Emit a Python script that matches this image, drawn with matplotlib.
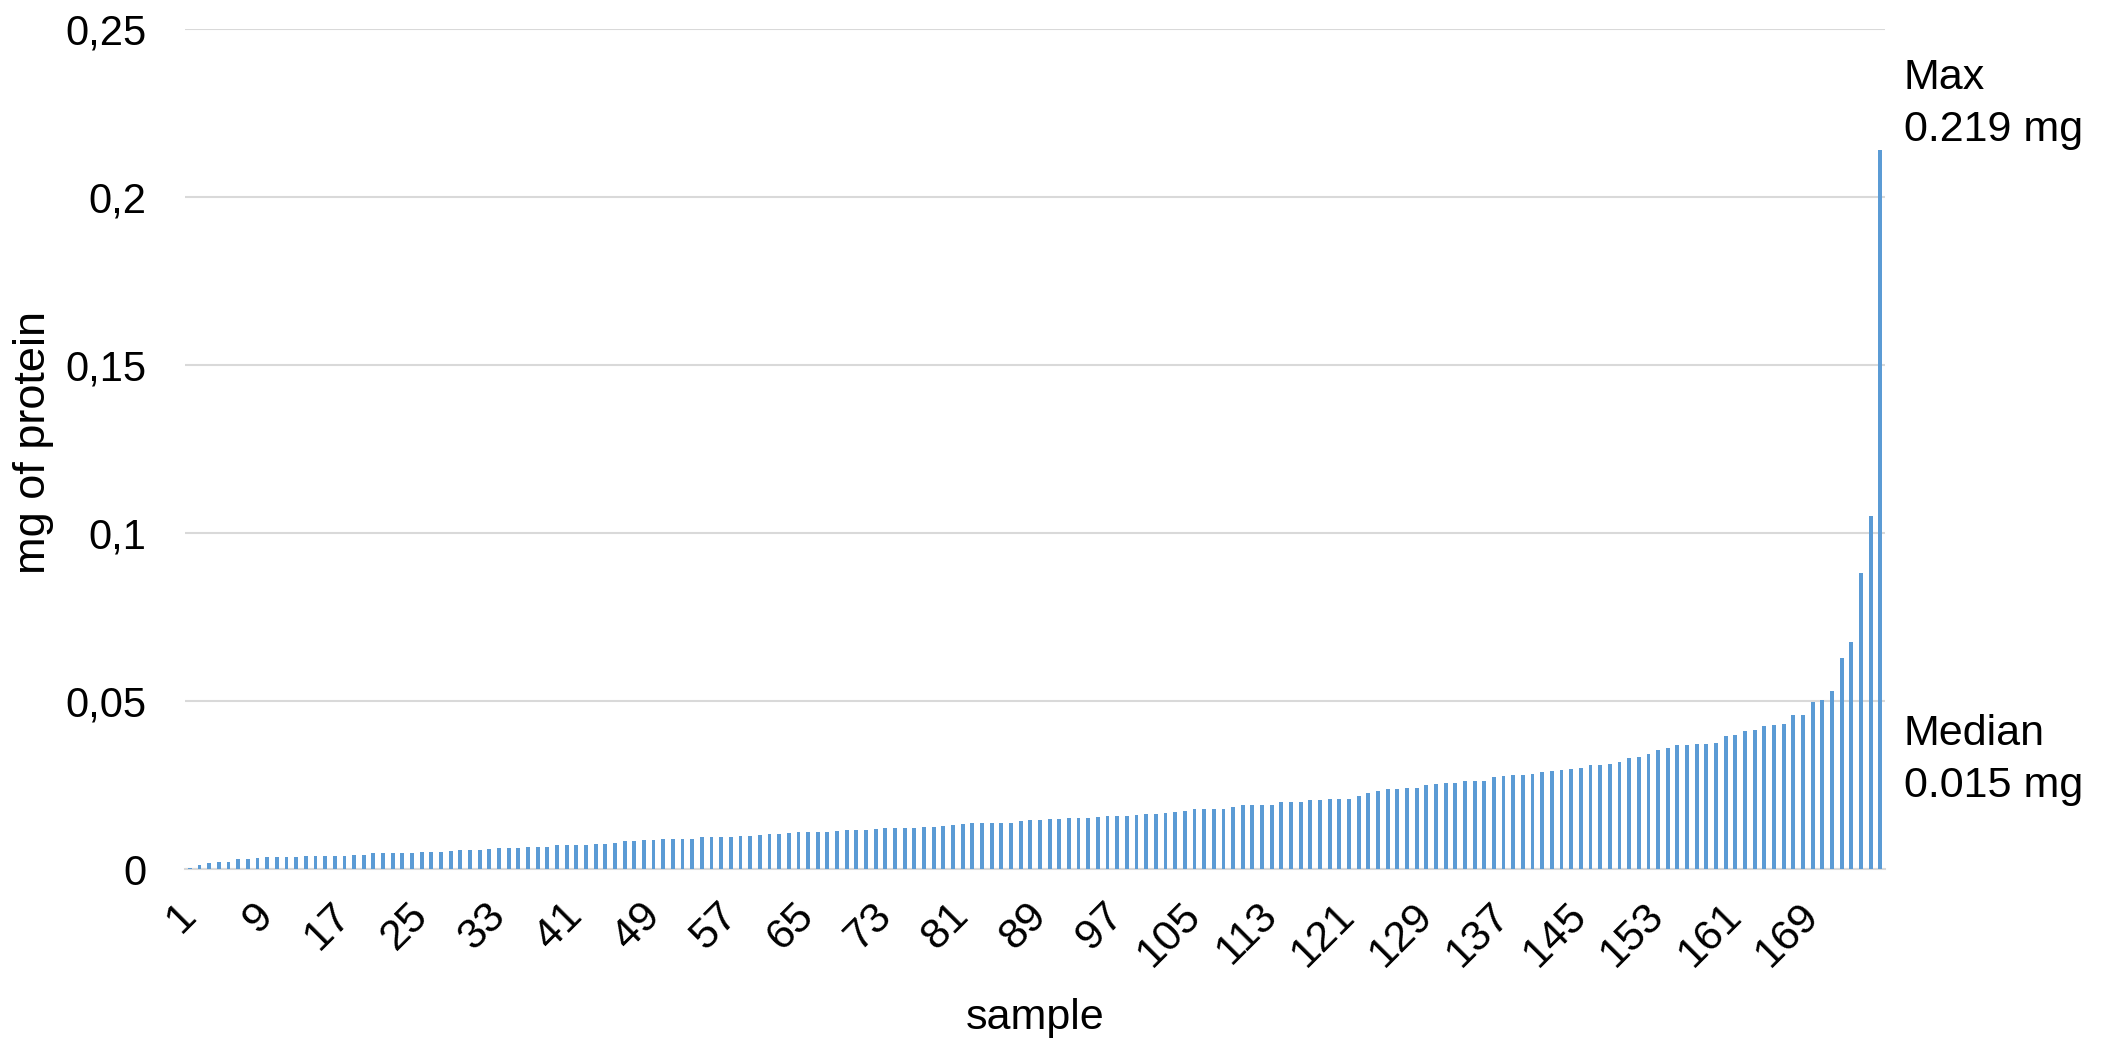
import matplotlib
matplotlib.use('Agg')
import matplotlib.pyplot as plt
import numpy as np

plt.rcParams['font.family'] = ['Liberation Sans', 'DejaVu Sans']

# protein per sample, sorted ascending
protein_mg = [
    0.0002, 0.0013, 0.0018, 0.0020, 0.0022, 0.0029, 0.0031, 0.0033, 0.0035, 0.0035,
    0.0035, 0.0037, 0.0039, 0.0039, 0.0039, 0.0039, 0.0039, 0.0041, 0.0041, 0.0047,
    0.0047, 0.0047, 0.0047, 0.0049, 0.0051, 0.0052, 0.0052, 0.0054, 0.0056, 0.0056,
    0.0056, 0.0060, 0.0062, 0.0062, 0.0064, 0.0065,
    0.0066, 0.0066, 0.0070, 0.0072, 0.0072, 0.0072, 0.0074, 0.0074, 0.0078, 0.0082,
    0.0082, 0.0086, 0.0086, 0.0088, 0.0088, 0.0090, 0.0090, 0.0094, 0.0094, 0.0094,
    0.0096, 0.0098, 0.0099, 0.0102, 0.0104, 0.0104, 0.0107, 0.0111, 0.0111, 0.0111,
    0.0111, 0.0113, 0.0115, 0.0115, 0.0115,
    0.0120, 0.0122, 0.0122, 0.0122, 0.0122, 0.0124, 0.0126, 0.0128, 0.0130, 0.0134,
    0.0136, 0.0136, 0.0136, 0.0136, 0.0138, 0.0143, 0.0145, 0.0147, 0.0149, 0.0149,
    0.0151, 0.0151, 0.0151, 0.0156, 0.0158, 0.0158, 0.0158, 0.0161, 0.0163, 0.0163,
    0.0167, 0.0170, 0.0174, 0.0179, 0.0179,
    0.0179, 0.0179, 0.0184, 0.0192, 0.0192, 0.0192, 0.0192, 0.0198, 0.0198, 0.0199,
    0.0205, 0.0205, 0.0207, 0.0207, 0.0209, 0.0217, 0.0225, 0.0232, 0.0238, 0.0238,
    0.0240, 0.0240, 0.0250, 0.0252, 0.0256, 0.0257, 0.0261, 0.0261, 0.0263, 0.0274,
    0.0277, 0.0279, 0.0279, 0.0284, 0.0289,
    0.0292, 0.0294, 0.0298, 0.0300, 0.0309, 0.0311, 0.0313, 0.0319, 0.0330, 0.0333,
    0.0341, 0.0353, 0.0360, 0.0368, 0.0369, 0.0371, 0.0371, 0.0375, 0.0397, 0.0399,
    0.0412, 0.0414, 0.0427, 0.0429, 0.0433, 0.0458, 0.0458, 0.0498, 0.0503, 0.0530,
    0.0628, 0.0675, 0.0880, 0.1052, 0.2140,
]
samples = list(range(1, len(protein_mg) + 1))
xtick_samples = samples[::8]
ytick_values = [0, 0.05, 0.1, 0.15, 0.2, 0.25]
ytick_labels = ['0', '0,05', '0,1', '0,15', '0,2', '0,25']

max_text = 'Max\n0.219 mg'
median_text = 'Median\n0.015 mg'

fig = plt.figure(figsize=(21.2, 10.38), dpi=100)
ax = fig.add_axes([0.0873, 0.1628, 0.8019, 0.8092])

ax.bar(samples, protein_mg, width=0.4, color='#5B9BD5', zorder=3)

ax.set_xlim(0.5, len(samples) + 0.5)
ax.set_ylim(0, 0.25)
ax.set_yticks(ytick_values)
ax.set_yticklabels(ytick_labels, fontsize=30)
ax.set_xticks(xtick_samples)
ax.set_xticklabels([str(s) for s in xtick_samples], fontsize=31, rotation=45,
                   ha='right', va='center', rotation_mode='anchor')
ax.tick_params(axis='both', length=0)
ax.tick_params(axis='x', pad=29)
ax.tick_params(axis='y', pad=28)

ax.grid(axis='y', color='#D9D9D9', linewidth=1.5, zorder=0)
for side in ['top', 'right', 'left']:
    ax.spines[side].set_visible(False)
ax.spines['bottom'].set_color('#D9D9D9')
ax.spines['bottom'].set_linewidth(1.5)

ax.set_xlabel('sample', fontsize=31, va='top')
ax.xaxis.set_label_coords(0.5, -0.1536)
ax.set_ylabel('mg of protein', fontsize=32.5)
ax.yaxis.set_label_coords(-0.077, 0.508)

# side annotations
tr = ax.get_yaxis_transform()
ax.text(1.011, 0.2415, max_text, transform=tr, fontsize=31, va='top', ha='left',
        linespacing=1.4, clip_on=False)
ax.text(1.011, 0.0462, median_text, transform=tr, fontsize=31, va='top', ha='left',
        linespacing=1.4, clip_on=False)

fig.savefig('out.png', dpi=100)
